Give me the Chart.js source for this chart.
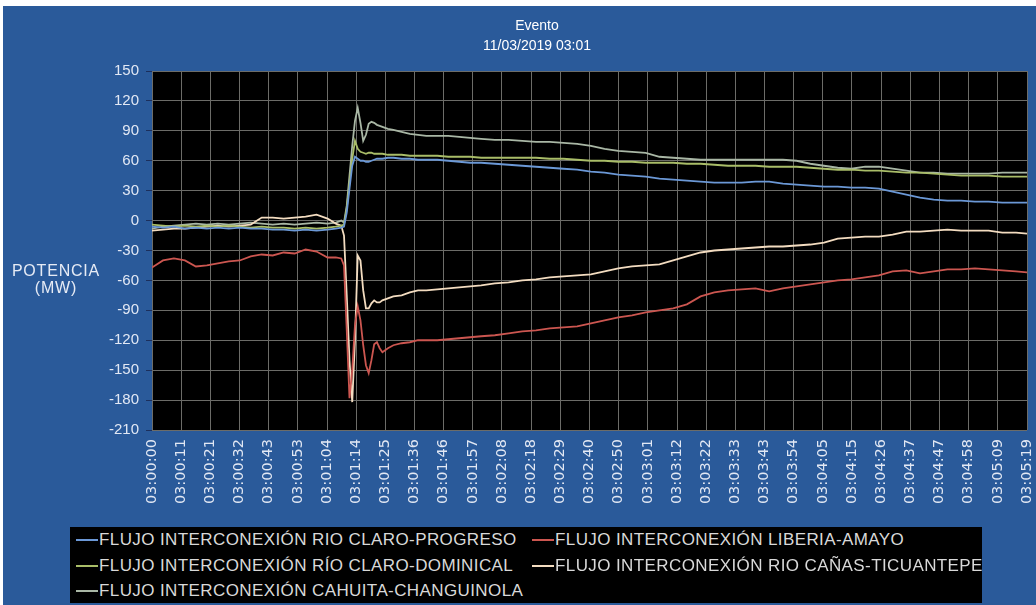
<!DOCTYPE html>
<html>
<head>
<meta charset="utf-8">
<script src="https://cdn.jsdelivr.net/npm/chart.js@4/dist/chart.umd.min.js"></script>
<style>
  html, body { margin:0; padding:0; background:#ffffff; width:1036px; height:605px; overflow:hidden; }
  #frame { position:absolute; left:3px; top:6px; width:1033px; height:599px; background:#2a5a9a; }
  #chart { position:absolute; left:0; top:0; }
  .title { position:absolute; left:387px; width:300px; text-align:center; color:#ffffff;
           font-family:"Liberation Sans", Arial, sans-serif; font-size:14px; line-height:16px; }
  .ylab { position:absolute; left:0; width:112px; text-align:center; color:#e6ebf5;
          font-family:"Liberation Sans", Arial, sans-serif; font-size:16px; line-height:18px; letter-spacing:0.8px; }
  #legend { position:absolute; left:70px; top:527px; width:912px; height:76px; background:#000000; }
  .item { position:absolute; height:24px; display:flex; align-items:center; white-space:nowrap; }
  .sw { width:22px; height:2px; margin-right:1px; }
  .txt { color:#d9d9d9; font-family:"Liberation Sans", Arial, sans-serif; font-size:17px; letter-spacing:0.4px; line-height:24px; }
</style>
</head>
<body>
<div id="frame"></div>
<canvas id="chart" width="1036" height="605"></canvas>
<div class="title" style="top:17px;">Evento</div>
<div class="title" style="top:37px;">11/03/2019 03:01</div>
<div class="ylab" style="top:262px;">POTENCIA</div>
<div class="ylab" style="top:279px;">(MW)</div>
<div id="legend"></div>
<script>
// ---------- DATA ----------
const xTickLabels = ["03:00:00","03:00:11","03:00:21","03:00:32","03:00:43","03:00:53","03:01:04","03:01:14","03:01:25","03:01:36","03:01:46","03:01:57","03:02:08","03:02:18","03:02:29","03:02:40","03:02:50","03:03:01","03:03:12","03:03:22","03:03:33","03:03:43","03:03:54","03:04:05","03:04:15","03:04:26","03:04:37","03:04:47","03:04:58","03:05:09","03:05:19"];

// seconds after 03:00:00
const times = [0,4,8,12,16,20,24,28,32,36,40,44,48,52,56,60,64,67,69,70,71,72,73,74,75,76,77,78,79,80,81,82,83,84,86,88,91,94,97,100,104,108,112,116,120,125,130,135,140,145,150,155,160,165,170,175,180,185,190,195,200,205,210,215,220,225,230,235,240,245,250,255,260,265,270,275,280,285,290,295,300,305,310,315,319];

const seriesNames = [
  "FLUJO INTERCONEXIÓN RIO CLARO-PROGRESO",
  "FLUJO INTERCONEXIÓN LIBERIA-AMAYO",
  "FLUJO INTERCONEXIÓN RÍO CLARO-DOMINICAL",
  "FLUJO INTERCONEXIÓN RIO CAÑAS-TICUANTEPE",
  "FLUJO INTERCONEXIÓN CAHUITA-CHANGUINOLA"
];

const progreso = [-6,-7,-6,-8,-7,-8,-7,-8,-7,-8,-8,-9,-9,-10,-9,-10,-9,-8,-7,-6,
  8,32,55,64,62,60,60,59,59,60,61,62,62,62,
  63,63,62,62,61,61,61,60,59,58,58,
  57,56,55,54,53,52,51,49,48,46,45,44,42,41,40,39,38,38,38,39,39,37,36,35,34,34,33,33,32,29,26,23,21,20,20,19,19,18,18,18];

const liberia = [-47,-40,-38,-40,-46,-45,-43,-41,-40,-36,-34,-35,-32,-33,-29,-31,-37,-37,-38,-45,
  -110,-178,-150,-105,-86,-100,-125,-145,-153,-140,-124,-122,-128,-132,
  -128,-125,-123,-122,-120,-120,-120,-119,-118,-117,-116,
  -115,-113,-111,-110,-108,-107,-106,-103,-100,-97,-95,-92,-90,-88,-84,-76,-72,-70,-69,-68,-71,-68,-66,-64,-62,-60,-59,-57,-55,-51,-50,-53,-51,-49,-49,-48,-49,-50,-51,-52];

const dominical = [-4,-5,-6,-5,-6,-5,-6,-5,-6,-7,-6,-7,-7,-8,-7,-8,-7,-6,-5,-4,
  12,38,62,80,72,69,68,67,68,68,67,67,67,67,
  66,66,66,65,65,65,65,64,64,64,63,
  63,63,63,63,62,62,61,60,60,59,59,58,58,58,57,57,56,55,55,55,54,54,54,53,52,51,51,50,50,49,48,48,47,46,45,45,45,44,44,44];

const ticuantepe = [-10,-9,-8,-8,-7,-6,-5,-6,-5,-4,3,3,2,3,4,6,2,-3,-5,-15,
  -75,-140,-182,-120,-35,-40,-70,-88,-88,-83,-80,-82,-82,-80,
  -78,-76,-75,-72,-70,-70,-69,-68,-67,-66,-65,
  -63,-62,-60,-59,-57,-56,-55,-54,-51,-48,-46,-45,-44,-40,-36,-32,-30,-29,-28,-27,-26,-26,-25,-24,-22,-18,-17,-16,-16,-14,-11,-11,-10,-9,-10,-10,-10,-12,-12,-13];

const cahuita = [-8,-6,-5,-4,-3,-4,-3,-4,-3,-2,-3,-4,-3,-4,-3,-2,-3,-2,0,-2,
  15,45,75,100,113,98,80,86,97,99,98,96,95,94,
  92,91,89,87,86,85,85,85,84,83,82,
  81,81,80,79,79,78,77,75,72,70,69,68,64,63,62,61,61,61,61,61,61,61,60,57,55,53,52,54,54,52,50,48,48,47,47,47,47,48,48,48];

const seriesValues = [progreso, liberia, dominical, ticuantepe, cahuita];
const seriesColors = ["#6b98d6", "#cc5650", "#a9bd68", "#f3dcc0", "#a9b7a5"];

// ---------- CHART ----------
const toSec = s => { const p = s.split(':').map(Number); return p[0]*3600 + p[1]*60 + p[2]; };
const xMax = toSec(xTickLabels[xTickLabels.length-1]) - toSec(xTickLabels[0]);
const gridColor = "#6c6c68";
const tickText = "#e2e8f4";

const plotBg = {
  id: 'plotBg',
  beforeDraw(chart) {
    const a = chart.chartArea, ctx = chart.ctx;
    ctx.save(); ctx.fillStyle = '#000000';
    ctx.fillRect(a.left, a.top, a.right - a.left, a.bottom - a.top);
    ctx.restore();
  }
};

new Chart(document.getElementById('chart'), {
  type: 'line',
  data: {
    datasets: seriesValues.map((vals, k) => ({
      label: seriesNames[k],
      data: times.map((t, i) => ({ x: t, y: vals[i] })),
      borderColor: seriesColors[k],
      borderWidth: 1.8,
      pointRadius: 0,
      tension: 0,
      fill: false
    }))
  },
  options: {
    responsive: false,
    devicePixelRatio: 1,
    animation: false,
    layout: { padding: { left: 0, top: 71, right: 9, bottom: 0 } },
    plugins: { legend: { display: false }, title: { display: false }, tooltip: { enabled: false } },
    scales: {
      x: {
        type: 'linear', min: 0, max: xMax,
        afterBuildTicks: s => { s.ticks = xTickLabels.map((l, i) => ({ value: i * xMax / (xTickLabels.length - 1) })); },
        afterFit: s => { s.height = 175; s.paddingLeft = 0; s.paddingRight = 0; },
        ticks: {
          autoSkip: false, maxRotation: 90, minRotation: 90, padding: 9, color: tickText,
          font: { family: 'DejaVu Sans', size: 14.5 },
          callback: (v, i) => xTickLabels[i]
        },
        grid: { color: gridColor, lineWidth: 1, drawTicks: false },
        border: { display: false }
      },
      y: {
        min: -210, max: 150,
        afterFit: s => { s.width = 152; s.paddingTop = 0; s.paddingBottom = 0; },
        ticks: { stepSize: 30, padding: 7, color: tickText, font: { family: 'Liberation Sans', size: 15 } },
        grid: { color: gridColor, lineWidth: 1, tickColor: '#1b2f5c', tickLength: 6 },
        border: { display: false }
      }
    }
  },
  plugins: [plotBg]
});

// ---------- LEGEND ----------
const legend = document.getElementById('legend');
seriesNames.forEach((name, i) => {
  const col = i % 2, row = Math.floor(i / 2);
  const it = document.createElement('div');
  it.className = 'item';
  it.style.left = (col ? 462 : 6) + 'px';
  it.style.top = (1 + row * 25.5) + 'px';
  const sw = document.createElement('span'); sw.className = 'sw'; sw.style.background = seriesColors[i];
  const tx = document.createElement('span'); tx.className = 'txt'; tx.textContent = name;
  it.appendChild(sw); it.appendChild(tx);
  legend.appendChild(it);
});
</script>
</body>
</html>
